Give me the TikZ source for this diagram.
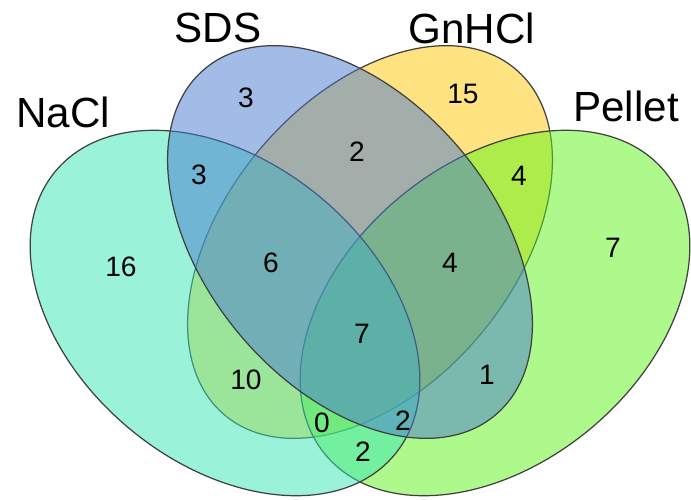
\documentclass[tikz,border=0pt]{standalone}
\usepackage{fontspec}
\setmainfont{Liberation Sans}
\definecolor{naclc}{RGB}{55,231,179}
\definecolor{sdsc}{RGB}{73,121,209}
\definecolor{gnhclc}{RGB}{255,201,5}
\definecolor{pelletc}{RGB}{95,245,25}
\tikzset{
  setarea/.style={fill opacity=0.5, draw=black!75, line width=0.7pt},
  setname/.style={font=\fontsize{24}{28}\selectfont, inner sep=0pt},
  count/.style={font=\fontsize{16}{19}\selectfont, inner sep=0pt}
}

\begin{document}
\begin{tikzpicture}
  \useasboundingbox (0cm,0cm) rectangle (13.82cm,-9.98cm);
  \filldraw[fill=white, draw=none] (0cm,0cm) rectangle (13.82cm,-9.98cm);
  \filldraw[setarea, fill=gnhclc, rotate around={50:(7.4cm,-4.84cm)}] (7.4cm,-4.84cm) ellipse (4.52cm and 2.88cm);
  \filldraw[setarea, fill=pelletc, rotate around={40:(9.9cm,-6.26cm)}] (9.9cm,-6.26cm) ellipse (4.42cm and 3cm);
  \filldraw[setarea, fill=naclc, rotate around={-40:(4.5cm,-6.26cm)}] (4.5cm,-6.26cm) ellipse (4.42cm and 3cm);
  \filldraw[setarea, fill=sdsc, rotate around={-50:(7cm,-4.84cm)}] (7cm,-4.84cm) ellipse (4.52cm and 2.88cm);
  \node[setname] (nacl) at (1.26cm,-2.24cm) {NaCl};
  \node[setname] (sds) at (4.36cm,-0.56cm) {SDS};
  \node[setname] (gnhcl) at (9.44cm,-0.56cm) {GnHCl};
  \node[setname] (pellet) at (12.52cm,-2.12cm) {Pellet};
  \node[count] (s) at (4.92cm,-1.96cm) {3};
  \node[count] (g) at (9.26cm,-1.88cm) {15};
  \node[count] (sg) at (7.14cm,-3.04cm) {2};
  \node[count] (ns) at (3.98cm,-3.5cm) {3};
  \node[count] (gp) at (10.38cm,-3.52cm) {4};
  \node[count] (n) at (2.42cm,-5.34cm) {16};
  \node[count] (nsg) at (5.42cm,-5.26cm) {6};
  \node[count] (sgp) at (9cm,-5.26cm) {4};
  \node[count] (p) at (12.26cm,-4.96cm) {7};
  \node[count] (nsgp) at (7.24cm,-6.68cm) {7};
  \node[count] (ng) at (4.92cm,-7.6cm) {10};
  \node[count] (sp) at (9.74cm,-7.5cm) {1};
  \node[count] (ngp) at (6.44cm,-8.46cm) {0};
  \node[count] (nsp) at (8.06cm,-8.42cm) {2};
  \node[count] (np) at (7.26cm,-9.04cm) {2};
\end{tikzpicture}
\end{document}
